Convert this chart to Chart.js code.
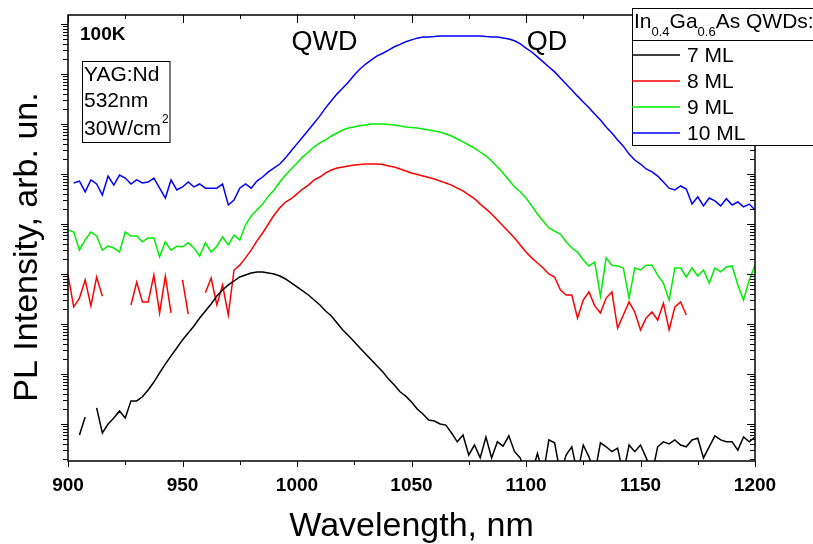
<!DOCTYPE html>
<html>
<head>
<meta charset="utf-8">
<script src="https://cdn.jsdelivr.net/npm/chart.js@4.4.1/dist/chart.umd.min.js"></script>
<style>
  html, body { margin: 0; padding: 0; background: #fff; }
</style>
</head>
<body>
<canvas id="pl" width="813" height="544"></canvas>
<script>
// wavelength grid, nm
const wavelength = [
  900, 902.5, 905, 907.5, 910, 912.5, 915, 917.5, 920, 922.5,
  925, 927.5, 930, 932.5, 935, 937.5, 940, 942.5, 945, 947.5,
  950, 952.5, 955, 957.5, 960, 962.5, 965, 967.5, 970, 972.5,
  975, 977.5, 980, 982.5, 985, 987.5, 990, 992.5, 995, 997.5,
  1000, 1002.5, 1005, 1007.5, 1010, 1012.5, 1015, 1017.5, 1020, 1022.5,
  1025, 1027.5, 1030, 1032.5, 1035, 1037.5, 1040, 1042.5, 1045, 1047.5,
  1050, 1052.5, 1055, 1057.5, 1060, 1062.5, 1065, 1067.5, 1070, 1072.5,
  1075, 1077.5, 1080, 1082.5, 1085, 1087.5, 1090, 1092.5, 1095, 1097.5,
  1100, 1102.5, 1105, 1107.5, 1110, 1112.5, 1115, 1117.5, 1120, 1122.5,
  1125, 1127.5, 1130, 1132.5, 1135, 1137.5, 1140, 1142.5, 1145, 1147.5,
  1150, 1152.5, 1155, 1157.5, 1160, 1162.5, 1165, 1167.5, 1170, 1172.5,
  1175, 1177.5, 1180, 1182.5, 1185, 1187.5, 1190, 1192.5, 1195, 1197.5,
  1200
];

// PL intensity, arb. un. (null = no signal / negative)
const ml7 = [
  0.48, null, 0.60, 1.38, null, 2.1, 0.66, 1.0, 1.32, 1.82,
  1.32, 2.9, 2.9, 3.5, 4.8, 6.9, 10.5, 15.8, 23, 33,
  48, 66, 91, 132, 182, 251, 363, 479, 603, 724,
  871, 955, 1047, 1096, 1096, 1047, 1000, 912, 794, 661,
  550, 457, 380, 302, 240, 182, 145, 105, 76, 58,
  44, 33, 25, 19, 14.5, 11, 7.9, 6.0, 4.4, 3.6,
  2.75, 2.0, 1.58, 1.2, 1.15, 1.0, 0.95, 0.66, 0.44, 0.60,
  0.24, 0.38, 0.21, 0.55, 0.21, 0.44, 0.36, 0.58, 0.28, 0.21,
  0.1, 0.1, 0.26, 0.1, 0.48, 0.42, 0.1, 0.24, 0.35, 0.1,
  0.38, 0.22, 0.1, 0.42, 0.35, 0.28, 0.33, 0.1, 0.38, 0.28,
  0.38, 0.21, 0.1, 0.35, 0.44, 0.40, 0.48, 0.38, 0.35, 0.48,
  0.52, 0.21, 0.35, 0.58, 0.48, 0.44, 0.44, 0.30, 0.55, 0.44,
  0.55
];

const ml8 = [
  950, 220, 330, 760, 230, 870, 360, null, null, null,
  null, 240, 690, 275, 275, 950, 166, 910, 166, null,
  760, 158, null, null, 420, 830, 240, 600, 151, 1.2e3,
  1.5e3, 2.1e3, 3.0e3, 4.6e3, 6.6e3, 1.0e4, 1.51e4, 2.1e4, 2.75e4, 3.2e4,
  4.0e4, 5.0e4, 6.0e4, 7.6e4, 8.7e4, 1.05e5, 1.2e5, 1.32e5, 1.38e5, 1.45e5,
  1.51e5, 1.55e5, 1.58e5, 1.58e5, 1.58e5, 1.55e5, 1.45e5, 1.38e5, 1.26e5, 1.15e5,
  1.05e5, 9.8e4, 9.1e4, 8.5e4, 7.9e4, 7.2e4, 6.6e4, 6.0e4, 5.2e4, 4.6e4,
  3.8e4, 3.2e4, 2.5e4, 2.0e4, 1.58e4, 1.2e4, 9.1e3, 6.9e3, 5.25e3, 3.8e3,
  2.75e3, 2.1e3, 1.66e3, 1.32e3, 1.0e3, 870, 480, 380, 380, 132,
  300, 440, 230, 166, 330, 440, 83, 151, 275, 174,
  76, 132, 174, 120, 260, 76, 220, 275, 151, null,
  null, null, null, null, null, null, null, null, null, null,
  null
];

const ml9 = [
  7.6e3, 6.9e3, 3.0e3, 4.8e3, 6.9e3, 5.75e3, 3.0e3, 3.6e3, 3.3e3, 2.75e3,
  6.9e3, 5.75e3, 5.75e3, 4.4e3, 5.25e3, 5.25e3, 2.2e3, 4.4e3, 3.0e3, 3.6e3,
  3.5e3, 4.2e3, 3.3e3, 2.3e3, 4.2e3, 2.75e3, 3.6e3, 5.5e3, 3.8e3, 6.0e3,
  4.8e3, 9.5e3, 1.45e4, 1.9e4, 2.5e4, 3.6e4, 4.8e4, 6.9e4, 9.5e4, 1.26e5,
  1.66e5, 2.2e5, 2.75e5, 3.5e5, 4.2e5, 4.8e5, 5.75e5, 6.6e5, 7.6e5, 8.3e5,
  8.7e5, 9.3e5, 9.5e5, 1.0e6, 1.0e6, 1.0e6, 9.8e5, 9.5e5, 9.1e5, 8.7e5,
  8.5e5, 8.3e5, 7.9e5, 7.6e5, 7.2e5, 6.9e5, 6.3e5, 5.75e5, 5.0e5, 4.4e5,
  3.8e5, 3.3e5, 2.75e5, 2.3e5, 1.82e5, 1.38e5, 1.05e5, 7.6e4, 5.5e4, 4.4e4,
  3.3e4, 2.3e4, 1.58e4, 1.15e4, 8.3e3, 7.2e3, 6.3e3, 4.4e3, 3.3e3, 2.75e3,
  1.9e3, 1.45e3, 1.74e3, 360, 2.1e3, 1.5e3, 1.45e3, 1.32e3, 330, 1.32e3,
  1.2e3, 1.5e3, 1.5e3, 950, 660, 300, 1.32e3, 1.32e3, 870, 1.32e3,
  910, 1.2e3, 660, 1.32e3, 1.1e3, 1.38e3, 1.45e3, 600, 300, 760,
  1.5e3
];

const ml10 = [
  null, 6.6e4, 7.2e4, 4.4e4, 7.6e4, 6.3e4, 3.8e4, 9.1e4, 6.0e4, 9.5e4,
  8.3e4, 6.3e4, 7.6e4, 6.6e4, 6.9e4, 8.3e4, 5.2e4, 3.3e4, 7.6e4, 4.8e4,
  5.5e4, 6.9e4, 5.5e4, 6.3e4, 5.2e4, 5.2e4, 5.2e4, 6.3e4, 2.4e4, 3.0e4,
  5.2e4, 6.3e4, 5.2e4, 7.2e4, 8.7e4, 1.1e5, 1.32e5, 1.58e5, 2.1e5, 2.9e5,
  4.0e5, 5.5e5, 7.6e5, 1.05e6, 1.45e6, 2.1e6, 2.9e6, 4.0e6, 5.25e6, 6.9e6,
  9.5e6, 1.26e7, 1.58e7, 1.91e7, 2.3e7, 2.6e7, 3.0e7, 3.5e7, 3.9e7, 4.4e7,
  4.8e7, 5.2e7, 5.5e7, 5.5e7, 5.6e7, 5.75e7, 5.75e7, 5.75e7, 5.75e7, 5.75e7,
  5.75e7, 5.75e7, 5.75e7, 5.6e7, 5.5e7, 5.5e7, 5.25e7, 5.0e7, 4.6e7, 4.0e7,
  3.3e7, 2.75e7, 2.2e7, 1.74e7, 1.38e7, 1.1e7, 8.3e6, 6.3e6, 4.8e6, 3.6e6,
  2.75e6, 2.1e6, 1.58e6, 1.2e6, 8.7e5, 6.6e5, 4.8e5, 3.6e5, 2.5e5, 1.9e5,
  1.58e5, 1.26e5, 1.1e5, 9.1e4, 6.9e4, 5.2e4, 4.8e4, 5.75e4, 5.0e4, 2.5e4,
  3.5e4, 2.3e4, 3.3e4, 2.9e4, 2.3e4, 3.2e4, 2.4e4, 2.75e4, 2.2e4, 2.5e4,
  1.9e4
];

const seriesLabels = ["7 ML", "8 ML", "9 ML", "10 ML"];
const seriesColors = ["#000000", "#ff0000", "#00ee00", "#0000ff"];

// axis ticks
const xMin = 900, xMax = 1200, xTickStep = 25, xLabelStep = 50;
const yMin = 0.182, yMax = 1.51e8;
const yDecades = [0.1, 1, 10, 100, 1e3, 1e4, 1e5, 1e6, 1e7, 1e8];
const yMinorSteps = [1, 2, 3, 4, 5, 6, 7, 8, 9];
const yTickValues = [];
yDecades.forEach(d => yMinorSteps.forEach(m => yTickValues.push(m * d)));

const FONT = "'Liberation Sans', Arial, sans-serif";
Chart.defaults.font.family = FONT;
Chart.defaults.color = "#000";

const series = [ml7, ml8, ml9, ml10];
const datasets = series.map((vals, k) => ({
    label: seriesLabels[k],
    data: wavelength.map((w, i) => ({ x: w, y: vals[i] })),
    borderColor: seriesColors[k],
    backgroundColor: seriesColors[k],
    borderWidth: 1.5,
    pointRadius: 0,
    tension: 0,
    spanGaps: false
}));

function seg(ctx, x1, y1, x2, y2) {
    ctx.beginPath();
    ctx.moveTo(x1, y1);
    ctx.lineTo(x2, y2);
    ctx.stroke();
}

const framePlugin = {
    id: "frame",
    afterDraw(chart) {
        const { ctx, chartArea: a, scales } = chart;
        ctx.save();
        ctx.strokeStyle = "#000";
        ctx.lineWidth = 1;

        // x ticks: out at bottom, in at top
        scales.x.ticks.forEach(t => {
            const px = Math.round(scales.x.getPixelForValue(t.value)) + 0.5;
            const major = t.value % xLabelStep === 0;
            seg(ctx, px, a.bottom, px, a.bottom + (major ? 6 : 4));
            seg(ctx, px, a.top, px, a.top + (major ? 8 : 4));
        });
        // y ticks: out at left, in at right
        scales.y.ticks.forEach(t => {
            const py = Math.round(scales.y.getPixelForValue(t.value)) + 0.5;
            if (py < a.top || py > a.bottom) return;
            const major = yDecades.includes(t.value);
            seg(ctx, a.left - (major ? 7 : 5), py, a.left, py);
            seg(ctx, a.right - (major ? 8 : 5), py, a.right, py);
        });

        ctx.lineWidth = 1.5;
        ctx.strokeRect(a.left, a.top, a.right - a.left, a.bottom - a.top);

        // y axis title
        ctx.fillStyle = "#000";
        ctx.save();
        ctx.translate(28, 247);
        ctx.rotate(-Math.PI / 2);
        ctx.textAlign = "center";
        ctx.textBaseline = "middle";
        ctx.font = "34px " + FONT;
        ctx.fillText("PL Intensity, arb. un.", 0, 0);
        ctx.restore();

        // annotations
        ctx.textBaseline = "middle";
        ctx.textAlign = "left";
        ctx.font = "bold 19px " + FONT;
        ctx.fillText("100K", 80, 35);

        ctx.lineWidth = 1;
        ctx.strokeRect(82.5, 61.5, 87.5, 81);
        ctx.font = "21px " + FONT;
        ctx.fillText("YAG:Nd", 84, 75);
        ctx.fillText("532nm", 84, 101);
        ctx.fillText("30W/cm", 84, 129);
        const wcm = ctx.measureText("30W/cm").width;
        ctx.font = "12px " + FONT;
        ctx.fillText("2", 84 + wcm + 1, 120);

        ctx.font = "27px " + FONT;
        ctx.textAlign = "center";
        ctx.fillText("QWD", 324.5, 43);
        ctx.fillText("QD", 547, 43);

        // legend
        const lx = 632.5, ly = 8.5;
        ctx.fillStyle = "#fff";
        ctx.fillRect(lx, ly, 200, 137);
        ctx.strokeStyle = "#000";
        ctx.lineWidth = 1;
        ctx.strokeRect(lx, ly, 200, 137);

        ctx.fillStyle = "#000";
        ctx.textAlign = "left";
        ctx.textBaseline = "alphabetic";
        let tx = 634;
        const parts = [["In", 21, 0], ["0.4", 13, 8], ["Ga", 21, 0], ["0.6", 13, 8], ["As QWDs:", 21, 0]];
        parts.forEach(([txt, size, dy]) => {
            ctx.font = size + "px " + FONT;
            ctx.fillText(txt, tx, 28 + dy);
            tx += ctx.measureText(txt).width;
        });
        seg(ctx, 632, 40.5, 813, 40.5);

        ctx.textBaseline = "middle";
        ctx.font = "21px " + FONT;
        chart.data.datasets.forEach((ds, k) => {
            const y = 55 + k * 26;
            ctx.strokeStyle = ds.borderColor;
            ctx.lineWidth = 1.5;
            seg(ctx, 632, y, 680, y);
            ctx.fillText(ds.label, 687, y + 1);
        });
        ctx.restore();
    }
};

new Chart(document.getElementById("pl").getContext("2d"), {
    type: "line",
    data: { datasets },
    plugins: [framePlugin],
    options: {
        responsive: false,
        animation: false,
        devicePixelRatio: 1,
        layout: { padding: { top: 15, right: 58, left: 0, bottom: 0 } },
        plugins: {
            legend: { display: false },
            tooltip: { enabled: false }
        },
        scales: {
            x: {
                type: "linear",
                min: xMin,
                max: xMax,
                grid: { display: false, drawTicks: false },
                border: { display: false },
                ticks: {
                    stepSize: xTickStep,
                    autoSkip: false,
                    maxRotation: 0,
                    padding: 13,
                    color: "#000",
                    font: { size: 19, weight: "bold" },
                    callback: v => (v % xLabelStep === 0 ? v : "")
                },
                title: {
                    display: true,
                    text: "Wavelength, nm",
                    color: "#000",
                    font: { size: 34, lineHeight: 1.0 },
                    padding: 0
                },
                afterFit: s => { s.height = 83; }
            },
            y: {
                type: "logarithmic",
                min: yMin,
                max: yMax,
                grid: { display: false, drawTicks: false },
                border: { display: false },
                ticks: { display: false },
                afterBuildTicks: s => {
                    s.ticks = yTickValues.map(v => ({ value: v }));
                },
                title: { display: false },
                afterFit: s => { s.width = 68; }
            }
        }
    }
});
</script>
</body>
</html>
